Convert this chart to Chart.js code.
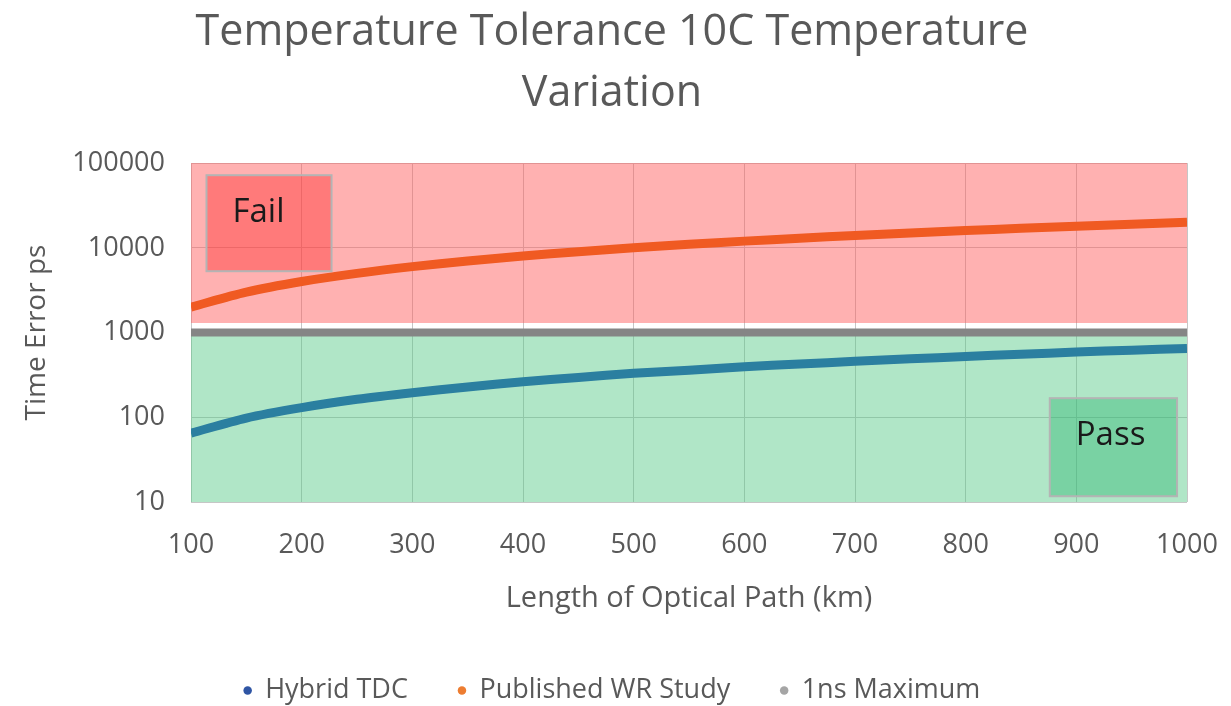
<!DOCTYPE html>
<html>
<head>
<meta charset="utf-8">
<script src="https://cdn.jsdelivr.net/npm/chart.js@4/dist/chart.umd.min.js"></script>
<style>
  html, body { margin: 0; background: #fff; }
  #wrap { width: 1231px; height: 706px; }
</style>
</head>
<body>
<div id="wrap"><canvas id="chart"></canvas></div>
<script>
// optical path length, km
const pathLengths = [100, 150, 200, 250, 300, 350, 400, 450, 500, 550, 600, 650, 700, 750, 800, 850, 900, 950, 1000];
// time error, ps
const hybridTDC   = [65, 98, 130, 163, 195, 228, 262, 295, 330, 360, 395, 425, 458, 490, 522, 555, 588, 620, 650];
const publishedWR = [2000, 3000, 4000, 5000, 6000, 7000, 8000, 9000, 10000, 11000, 12000, 13000, 14000, 15000, 16000, 17000, 18000, 19000, 20000];
const maxLimit    = [1000, 1000, 1000, 1000, 1000, 1000, 1000, 1000, 1000, 1000, 1000, 1000, 1000, 1000, 1000, 1000, 1000, 1000, 1000];

const yTicks = [10, 100, 1000, 10000, 100000];
const xRange = [100, 1000];
const failBand = [1300, 100000];
const passBand = [10, 1000];

// text boxes in data units
const noteBoxes = [
  { text: 'Fail', x: [114, 227], y: [5300, 72000], fill: 'rgba(255,40,40,0.4)' },
  { text: 'Pass', x: [876, 991], y: [11.7, 168], fill: 'rgba(40,180,110,0.4)' },
];

const FONT = "'Open Sans', sans-serif";
const GREY_TEXT = '#595959';
const PAD_BOTTOM = -8;

const legendItems = [
  { text: 'Hybrid TDC', color: '#2F55A4' },
  { text: 'Published WR Study', color: '#ED7D31' },
  { text: '1ns Maximum', color: '#A5A5A5' },
];

const toPoints = (ys) => pathLengths.map((x, i) => ({ x: x, y: ys[i] }));

const noteBoxPlugin = {
  id: 'noteBoxes',
  afterDatasetsDraw(chart) {
    const { ctx, scales: { x, y } } = chart;
    ctx.save();
    noteBoxes.forEach(b => {
      const left = x.getPixelForValue(b.x[0]);
      const right = x.getPixelForValue(b.x[1]);
      const top = y.getPixelForValue(b.y[1]);
      const bottom = y.getPixelForValue(b.y[0]);
      ctx.fillStyle = b.fill;
      ctx.fillRect(left, top, right - left, bottom - top);
      ctx.strokeStyle = '#B4B4B4';
      ctx.lineWidth = 2;
      ctx.strokeRect(left, top, right - left, bottom - top);
      ctx.fillStyle = '#1a1a1a';
      ctx.font = '33px ' + FONT;
      ctx.textAlign = 'left';
      ctx.textBaseline = 'middle';
      ctx.fillText(b.text, left + 26, top + 37);
    });
    ctx.restore();
  }
};

new Chart(document.getElementById('chart'), {
  type: 'line',
  data: {
    datasets: [
      { label: 'Hybrid TDC', data: toPoints(hybridTDC), borderColor: '#2B7FA0', borderWidth: 9, pointRadius: 0, tension: 0.3, order: 1 },
      { label: 'Published WR Study', data: toPoints(publishedWR), borderColor: '#F05A22', borderWidth: 9, pointRadius: 0, tension: 0.3, order: 1 },
      { label: '1ns Maximum', data: toPoints(maxLimit), borderColor: '#858585', borderWidth: 8, pointRadius: 0, order: 1 },
      { label: 'fail', data: xRange.map(v => ({ x: v, y: failBand[1] })), fill: { value: failBand[0] },
        backgroundColor: 'rgba(255,90,90,0.47)', borderWidth: 0, pointRadius: 0, order: 5 },
      { label: 'pass', data: xRange.map(v => ({ x: v, y: passBand[1] })), fill: 'start',
        backgroundColor: 'rgba(80,200,130,0.45)', borderWidth: 0, pointRadius: 0, order: 5 },
    ]
  },
  options: {
    responsive: true,
    maintainAspectRatio: false,
    animation: false,
    layout: { padding: { left: 0, right: 7, top: 0, bottom: PAD_BOTTOM } },
    plugins: {
      title: {
        display: true,
        text: ['Temperature Tolerance 10C Temperature', 'Variation'],
        color: GREY_TEXT,
        font: { family: FONT, size: 43, weight: 'normal', lineHeight: 1.42 },
        padding: { top: 2, bottom: 39 },
      },
      legend: {
        position: 'bottom',
        labels: {
          usePointStyle: true,
          boxWidth: 8,
          boxHeight: 6,
          padding: 50,
          color: GREY_TEXT,
          font: { family: FONT, size: 27 },
          generateLabels: () => legendItems.map((it, i) => ({
            text: it.text, fillStyle: it.color, strokeStyle: it.color, lineWidth: 0,
            pointStyle: 'circle', hidden: false, datasetIndex: i, fontColor: GREY_TEXT,
          })),
        },
        onClick: () => {},
      },
      tooltip: { enabled: false },
    },
    scales: {
      x: {
        type: 'linear',
        min: xRange[0],
        max: xRange[1],
        ticks: { stepSize: 100, color: GREY_TEXT, font: { family: FONT, size: 27 }, padding: 0, callback: v => String(v) },
        grid: { color: '#C6C6C6', drawTicks: true, tickLength: 27, tickColor: 'rgba(0,0,0,0)' },
        border: { display: false },
        title: { display: true, text: 'Length of Optical Path (km)', color: GREY_TEXT,
                 font: { family: FONT, size: 29 }, padding: { top: 0, bottom: 11 } },
        afterFit: s => { s.height = 706 - PAD_BOTTOM - 502 - s.chart.legend.height; },
      },
      y: {
        type: 'logarithmic',
        min: 10,
        max: 100000,
        afterBuildTicks: s => { s.ticks = yTicks.map(v => ({ value: v })); },
        ticks: { color: GREY_TEXT, font: { family: FONT, size: 27 }, padding: 26, callback: v => String(v) },
        grid: { color: '#C6C6C6', drawTicks: false },
        border: { display: false },
        title: { display: true, text: 'Time Error ps', color: GREY_TEXT,
                 font: { family: FONT, size: 28 }, padding: { top: 20, bottom: 0 } },
        afterFit: s => { s.width = 191; },
      },
      gutter: {
        type: 'linear',
        axis: 'y',
        position: 'right',
        display: true,
        grid: { display: false, drawTicks: false },
        ticks: { display: false },
        border: { display: false },
        afterFit: s => { s.width = 37; },
      },
    },
  },
  plugins: [noteBoxPlugin],
});
</script>
</body>
</html>
